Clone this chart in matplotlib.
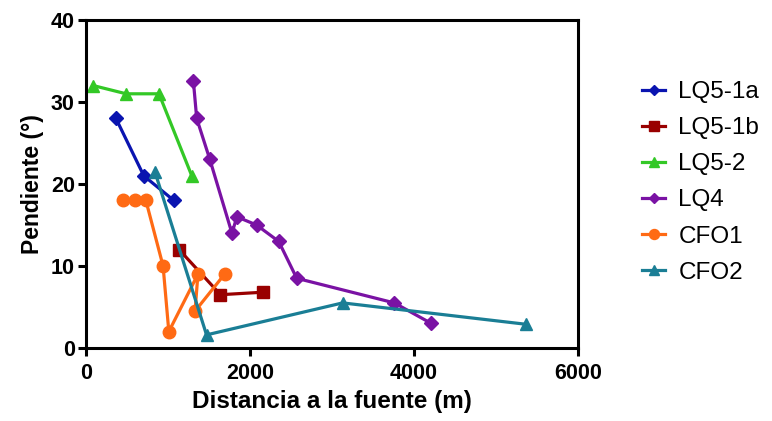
"""
plot.py
pendiente vs distancia a la fuente
"""

import matplotlib.pyplot as plt

plt.rcParams['font.family'] = ['Liberation Sans', 'DejaVu Sans']

## data
LQ5_1A_X = [365, 705, 1070]
LQ5_1A_Y = [28.0, 21.0, 18.0]

LQ5_1B_X = [1135, 1640, 2155]
LQ5_1B_Y = [12.0, 6.5, 6.8]

LQ5_2_X = [90, 490, 890, 1290]
LQ5_2_Y = [32.0, 31.0, 31.0, 21.0]

LQ4_X = [1310, 1350, 1510, 1780, 1840, 2080, 2350, 2570, 3760, 4210]
LQ4_Y = [32.5, 28.0, 23.0, 14.0, 16.0, 15.0, 13.0, 8.5, 5.5, 3.0]

CFO1_X = [455, 600, 730, 940, 1010, 1365, 1330, 1690]
CFO1_Y = [18.0, 18.0, 18.0, 10.0, 2.0, 9.0, 4.5, 9.0]

CFO2_X = [840, 1470, 3130, 5360]
CFO2_Y = [21.5, 1.6, 5.5, 2.9]

X_TICKS = [0, 2000, 4000, 6000]
Y_TICKS = [0, 10, 20, 30, 40]


def plot_test():
    '''
    plot test
    '''
    fig = plt.figure(figsize=(7.72, 4.21), dpi=100)
    ax = fig.add_axes([0.1114, 0.1734, 0.6373, 0.7791])

    lw = 2.3
    ax.plot(LQ5_1A_X, LQ5_1A_Y, color='#0a14b0', marker='D', markersize=7, lw=lw, label='LQ5-1a')
    ax.plot(LQ5_1B_X, LQ5_1B_Y, color='#990000', marker='s', markersize=9, lw=lw, label='LQ5-1b')
    ax.plot(LQ5_2_X, LQ5_2_Y, color='#33c826', marker='^', markersize=9, lw=lw, label='LQ5-2')
    ax.plot(LQ4_X, LQ4_Y, color='#7a12a4', marker='D', markersize=7, lw=lw, label='LQ4')
    ax.plot(CFO1_X, CFO1_Y, color='#ff6a14', marker='o', markersize=9, lw=lw, label='CFO1')
    ax.plot(CFO2_X, CFO2_Y, color='#1a7e95', marker='^', markersize=9, lw=lw, label='CFO2')

    ax.set_xlim(0, 6000)
    ax.set_ylim(0, 40)
    ax.set_xticks(X_TICKS)
    ax.set_yticks(Y_TICKS)
    for sp in ax.spines.values():
        sp.set_linewidth(2.2)
    ax.tick_params(direction='out', length=6, width=2.2, labelsize=15.5)
    ax.tick_params(axis='x', pad=5)
    ax.tick_params(axis='y', pad=2)
    for lab in ax.get_xticklabels() + ax.get_yticklabels():
        lab.set_fontweight('bold')

    ax.set_xlabel('Distancia a la fuente (m)', fontsize=17.5, fontweight='bold', labelpad=4)
    ax.set_ylabel('Pendiente (°)', fontsize=16.5, fontweight='bold', labelpad=5)

    ax.legend(loc='center left', bbox_to_anchor=(1.13, 0.505), frameon=False,
              fontsize=17.5, handlelength=0.95, handletextpad=0.55, markerscale=0.8,
              labelspacing=0.58, borderaxespad=0, borderpad=0)

    fig.savefig('out.png', dpi=100)
    return None


if __name__ == '__main__':
    plot_test()
